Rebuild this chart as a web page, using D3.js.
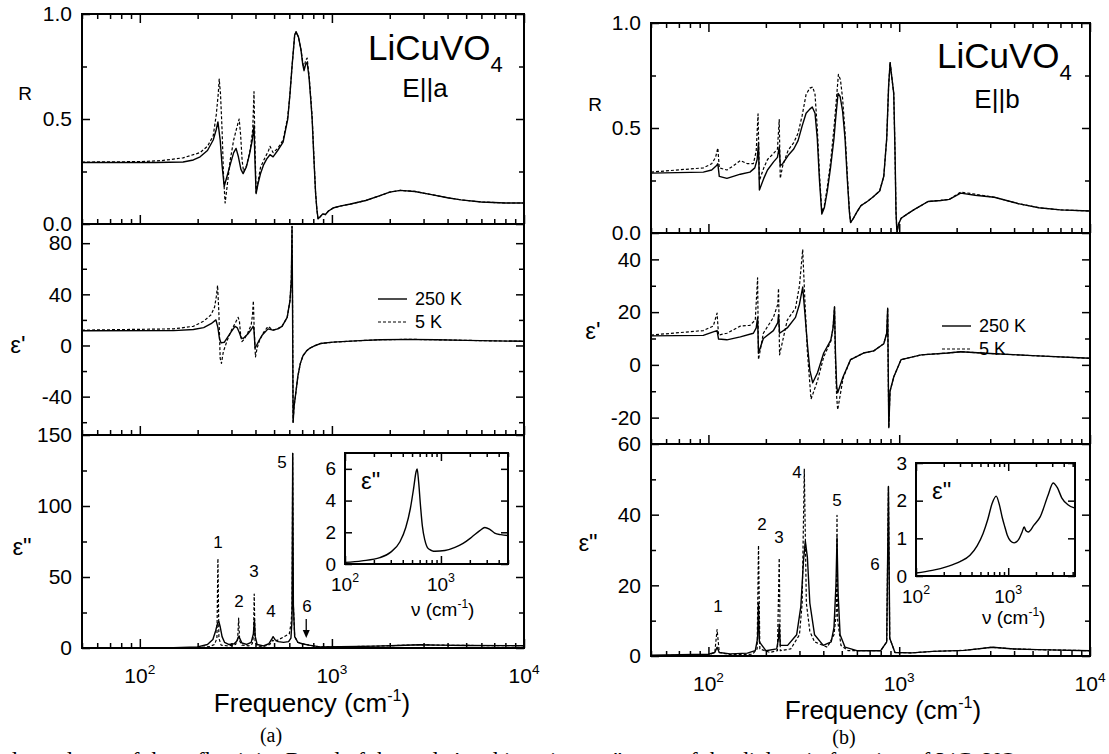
<!doctype html>
<html>
<head>
<meta charset="utf-8">
<script src="https://d3js.org/d3.v7.min.js"></script>
<title>LiCuVO4 optical spectra</title>
<style>
  body { margin: 0; background: #fff; }
  svg { display: block; background: #fff; }
</style>
</head>
<body>
<svg id="chart" width="1109" height="754"></svg>
<script>
// ---- data: [frequency cm^-1, value] ----
// panel (a), E||a
const aR250 = [[50,.293],[120,.293],[168,.295],[190,.305],[206,.32],[225,.35],[241,.40],[250,.45],[255,.486],[262,.40],[268,.28],[275,.18],[285,.23],[297,.29],[308,.34],[317,.36],[326,.32],[336,.26],[345,.24],[358,.27],[372,.33],[385,.40],[393,.47],[397,.32],[403,.145],[412,.19],[425,.24],[440,.28],[458,.31],[476,.33],[494,.32],[522,.35],[557,.39],[589,.50],[605,.62],[620,.75],[640,.90],[651,.915],[670,.89],[690,.83],[705,.76],[716,.73],[730,.76],[743,.77],[760,.70],[775,.60],[789,.50],[805,.32],[822,.15],[835,.07],[847,.025],[870,.035],[895,.048],[925,.045],[960,.062],[1014,.076],[1100,.085],[1250,.095],[1500,.112],[1780,.135],[2000,.152],[2270,.160],[2700,.155],[3300,.14],[4000,.125],[4700,.115],[6000,.105],[8000,.10],[10000,.10]];
const aR5 = [[50,.295],[100,.297],[130,.302],[168,.315],[206,.34],[225,.37],[241,.42],[250,.52],[256,.62],[259,.69],[263,.62],[268,.45],[273,.22],[278,.10],[284,.17],[295,.30],[308,.40],[320,.46],[329,.50],[335,.42],[341,.30],[347,.25],[360,.28],[375,.35],[387,.45],[393,.63],[397,.40],[403,.15],[412,.20],[425,.27],[445,.31],[468,.35],[476,.37],[494,.34],[522,.36],[557,.40],[589,.51],[605,.62],[620,.75],[640,.90],[651,.915],[670,.89],[690,.83],[705,.77],[716,.74],[730,.78],[743,.79],[760,.71],[775,.61],[789,.51],[805,.33],[822,.15],[835,.07],[847,.025],[870,.035],[895,.048],[925,.045],[960,.062],[1014,.076],[1100,.085],[1250,.095],[1500,.112],[1780,.135],[2000,.152],[2270,.160],[2700,.155],[3300,.14],[4000,.125],[4700,.115],[6000,.105],[8000,.10],[10000,.10]];
const aEps1_250 = [[50,11.5],[150,11.6],[190,12.5],[215,14],[235,17],[249,20],[255,14],[260,5],[265,2],[275,2.5],[285,6],[300,11],[313,15],[321,14],[330,10],[337,6],[345,5.5],[365,9],[380,12.5],[389,15],[393,12],[398,-2],[405,0],[418,4],[433,8],[465,13],[494,12],[522,13],[550,15],[585,22],[605,35],[615,52],[620,93],[624,30],[628,-60],[635,-48],[650,-36],[665,-24],[685,-14],[707,-8],[740,-4],[770,-2],[820,0],[870,1.5],[1014,2.6],[1400,3.8],[1780,4.5],[2500,4.8],[3500,4.5],[5000,4],[7000,3.6],[10000,3.3]];
const aEps1_5 = [[50,12],[150,13],[190,15],[215,19],[235,24],[245,30],[250,38],[254,47],[258,25],[262,-10],[266,-14],[272,-5],[285,4],[300,12],[315,18],[325,22],[330,19],[335,8],[340,3],[350,5],[365,10],[380,16],[386,24],[390,35],[394,12],[400,-9],[408,-2],[420,4],[440,10],[465,15],[494,12],[522,13],[550,15],[585,22],[605,35],[615,52],[620,93],[624,30],[628,-60],[635,-48],[650,-36],[665,-24],[685,-14],[707,-8],[740,-4],[770,-2],[820,0],[870,1.5],[1014,2.6],[1400,3.8],[1780,4.5],[2500,4.8],[3500,4.5],[5000,4],[7000,3.6],[10000,3.3]];
const aEps2_250 = [[50,.05],[150,.2],[200,.8],[225,2.5],[240,6],[248,12],[254,17.5],[258,18.5],[262,15],[268,8],[276,4],[290,2.5],[310,3],[320,5],[326,8],[332,6.5],[340,3.5],[360,2.5],[380,4],[390,10],[395,20],[399,8],[408,2.5],[440,1.5],[470,3],[485,6],[494,8],[505,6],[525,4.5],[560,4],[595,4.5],[612,7],[620,20],[625,137],[630,30],[640,8],[665,4],[700,3],[760,2],[866,.8],[1100,.85],[1690,1.3],[2200,1.8],[2870,2.3],[3600,2],[5000,1.8],[10000,1.6]];
const aEps2_5 = [[50,.03],[150,.1],[200,.3],[230,.9],[245,2.5],[252,7],[255,63],[258,7],[265,2],[290,1.5],[315,2.5],[323,6],[327,21],[331,5],[340,2],[370,1.5],[385,3],[391,9],[394,38],[398,5],[408,1.5],[440,1],[475,2.5],[492,5.5],[505,4.5],[530,6],[565,8],[600,10],[614,18],[620,30],[625,137],[630,30],[640,8],[665,4],[700,3],[760,2],[866,.8],[1100,.85],[1690,1.3],[2200,1.8],[2870,2.3],[3600,2],[5000,1.8],[10000,1.6]];
const aInset = [[100,.1],[150,.2],[231,.4],[300,.75],[374,1.4],[430,2.3],[480,3.5],[520,4.8],[550,5.8],[565,6.0],[585,5.2],[610,3.8],[640,2.4],[680,1.5],[730,1.0],[800,.85],[866,.8],[1100,.85],[1400,1.05],[1700,1.3],[2100,1.7],[2540,2.1],[2870,2.3],[3200,2.2],[3630,1.95],[4200,1.85],[5000,1.8]];

// panel (b), E||b
const bR250 = [[50,.285],[94,.29],[104,.30],[110,.32],[112,.33],[114,.27],[125,.26],[135,.27],[147,.28],[165,.29],[175,.31],[180,.35],[183,.43],[185,.205],[195,.26],[204,.30],[220,.34],[230,.36],[235,.41],[238,.32],[245,.33],[262,.37],[280,.40],[295,.44],[310,.51],[325,.57],[340,.59],[350,.60],[362,.57],[372,.45],[382,.25],[393,.09],[405,.12],[420,.20],[437,.315],[455,.45],[465,.55],[478,.665],[490,.65],[505,.58],[520,.45],[535,.25],[548,.10],[556,.05],[575,.07],[600,.10],[630,.13],[680,.15],[726,.17],[790,.20],[830,.27],[860,.45],[880,.70],[896,.81],[915,.74],[936,.665],[950,.40],[962,.10],[973,0],[990,.04],[1023,.07],[1100,.09],[1190,.11],[1300,.13],[1415,.15],[1650,.155],[1830,.16],[2100,.19],[2500,.18],[3150,.17],[4200,.14],[5400,.12],[7000,.11],[10000,.105]];
const bR5 = [[50,.29],[94,.31],[104,.33],[109,.36],[112,.405],[114,.31],[125,.30],[135,.32],[147,.345],[160,.33],[172,.33],[178,.39],[182,.567],[185,.25],[195,.31],[204,.35],[220,.38],[230,.40],[235,.54],[238,.26],[245,.32],[262,.395],[280,.43],[295,.475],[310,.56],[325,.66],[340,.69],[352,.695],[362,.66],[372,.50],[382,.28],[393,.10],[405,.13],[420,.22],[437,.34],[455,.50],[465,.60],[480,.755],[492,.73],[505,.64],[520,.48],[535,.27],[548,.11],[556,.05],[575,.07],[600,.10],[630,.13],[680,.15],[726,.17],[790,.20],[830,.27],[860,.45],[880,.70],[896,.815],[915,.74],[936,.665],[950,.40],[962,.10],[973,0],[990,.04],[1023,.07],[1100,.09],[1190,.11],[1300,.13],[1415,.15],[1650,.155],[1830,.16],[2100,.195],[2500,.185],[3150,.17],[4200,.14],[5400,.12],[7000,.11],[10000,.105]];
const bEps1_250 = [[50,11],[94,11.2],[106,12.5],[111,13],[113,9.8],[125,9.5],[147,10.6],[172,12],[178,14],[181,18],[183,4.5],[194,10],[219,13],[231,16],[233,19],[236,12],[259,14],[286,18],[300,23],[312,29.5],[320,20],[330,8],[340,-2],[352,-6.8],[373,-3],[402,4.5],[438,9.4],[450,14],[458,22],[463,5],[470,-8],[476,-10.6],[508,-4.5],[556,2],[650,4.5],[735,5.3],[830,8],[860,12],[870,21.5],[878,-10],[882,-23.8],[895,-10],[937,-4.5],[1023,2],[1305,3.8],[1800,4.5],[2100,5],[3000,4.3],[5000,3.5],[10000,2.5]];
const bEps1_5 = [[50,11.3],[94,13],[106,14.7],[111,19.6],[113,11.3],[125,12],[147,14.7],[165,15],[176,17],[181,33],[183,2],[194,12],[219,18],[231,23],[233,29],[236,3.8],[259,17],[286,21.5],[300,30],[312,43.8],[320,25],[330,5],[345,-13],[373,-6],[402,3],[438,9],[450,14],[458,22],[463,2],[470,-12],[476,-17],[508,-5],[556,2],[650,4.5],[735,5.3],[830,8],[860,12],[870,21.5],[878,-10],[882,-23.8],[895,-10],[937,-4.5],[1023,2],[1305,3.8],[1800,4.5],[2100,5],[3000,4.3],[5000,3.5],[10000,2.5]];
const bEps2_250 = [[50,.2],[100,.5],[108,1],[111,2.5],[114,1],[130,.6],[160,.8],[176,1.5],[181,5],[183,15],[185,4],[200,1.5],[228,2],[233,5],[235,9],[238,3],[260,3],[290,6],[305,14],[315,27],[322,32.5],[330,28],[340,15],[360,6],[400,3],[440,4],[455,8],[466,20],[472,33.5],[478,18],[490,6],[520,2.5],[600,1.5],[800,1.5],[860,4],[878,48],[892,5],[950,1],[1160,.88],[1500,1.3],[2200,1.6],[3070,2.47],[4000,2.0],[5300,1.8],[10000,1.5]];
const bEps2_5 = [[50,.1],[100,.3],[108,1],[111,7.5],[114,1],[130,.4],[170,.5],[180,2],[183,31.3],[186,2],[210,1],[230,1.5],[235,27.7],[238,1.5],[270,2],[300,6],[310,15],[318,53],[326,15],[340,7],[360,4],[420,2.5],[455,6],[468,12],[472,39.8],[476,10],[495,3],[540,1.5],[800,1.5],[860,4],[878,48],[892,5],[950,1],[1160,.88],[1500,1.3],[2200,1.6],[3070,2.47],[4000,2.0],[5300,1.8],[10000,1.5]];
const bInset = [[100,.08],[150,.15],[217,.25],[300,.38],[385,.55],[460,.8],[534,1.13],[600,1.5],[670,1.93],[740,2.12],[800,1.9],[860,1.56],[920,1.3],[975,1.09],[1060,.93],[1160,.88],[1300,.97],[1415,1.17],[1490,1.3],[1560,1.2],[1650,1.17],[1900,1.35],[2220,1.57],[2710,2.15],[3070,2.47],[3400,2.35],[3820,2.07],[4400,1.9],[5300,1.8]];

// tick values
const rMajor = [0, 0.5, 1.0], rMinor = [0.25, 0.75];
const aEps1Major = [-40, 0, 40, 80], aEps1Minor = [-60, -20, 20, 60];
const aEps2Major = [0, 50, 100, 150], aEps2Minor = [25, 75, 125];
const bEps1Major = [-20, 0, 20, 40], bEps1Minor = [-10, 10, 30];
const bEps2Major = [0, 20, 40, 60], bEps2Minor = [10, 30, 50];
const aInsetTicks = [0, 2, 4, 6], bInsetTicks = [0, 1, 2, 3];
const legendNames = ["250 K", "5 K"];
const aPeakNames = ["1", "2", "3", "4", "5", "6"];
const bPeakNames = ["1", "2", "3", "4", "5", "6"];

const FONT = "'Liberation Sans', Arial, Helvetica, sans-serif";
const SERIF = "'Liberation Serif', 'DejaVu Serif', 'Times New Roman', serif";

const svg = d3.select("#chart");
const isDecade = v => Math.abs(Math.log10(v) - Math.round(Math.log10(v))) < 1e-9;
let clipId = 0;

function drawCurve(g, data, x, y, dashed, curve) {
  g.append("path")
    .datum(data)
    .attr("fill", "none")
    .attr("stroke", "#000")
    .attr("stroke-width", dashed ? 1.2 : 1.4)
    .attr("stroke-dasharray", dashed ? "3,2" : null)
    .attr("stroke-linejoin", "round")
    .attr("d", d3.line().curve(curve || d3.curveLinear).x(d => x(d[0])).y(d => y(d[1])));
}

function tickAxis(g, axis, values, size, tx, ty) {
  const a = g.append("g")
    .attr("transform", `translate(${tx},${ty})`)
    .call(axis.tickValues(values).tickSize(size).tickFormat(""));
  a.select(".domain").remove();
  a.selectAll("line").attr("stroke-width", 1.5);
  return a;
}

function xTickRow(g, x, yPos, inward) {
  const all = x.ticks();
  const major = all.filter(isDecade), minor = all.filter(v => !isDecade(v));
  const ax = () => inward === "up" ? d3.axisTop(x) : d3.axisBottom(x);
  tickAxis(g, ax(), minor, 5, 0, yPos);
  tickAxis(g, ax(), major, 9, 0, yPos);
}

function yTicks(g, y, major, minor, left, right, fs, pad) {
  tickAxis(g, d3.axisRight(y), major, 8, left, 0);
  tickAxis(g, d3.axisRight(y), minor, 5, left, 0);
  tickAxis(g, d3.axisLeft(y), major, 8, right, 0);
  tickAxis(g, d3.axisLeft(y), minor, 5, right, 0);
  const lab = g.append("g")
    .attr("transform", `translate(${left},0)`)
    .call(d3.axisLeft(y).tickValues(major).tickSize(0).tickPadding(pad).tickFormat(d => major === rMajor ? d.toFixed(1) : String(d)));
  lab.select(".domain").remove();
  lab.attr("font-size", fs).attr("font-family", FONT);
}

function decadeLabel(g, xPos, yPos, exp, fs) {
  const t = g.append("text").attr("x", xPos).attr("y", yPos)
    .attr("text-anchor", "middle").attr("font-family", FONT).attr("font-size", fs);
  t.append("tspan").text("10");
  t.append("tspan").attr("dy", -fs * 0.45).attr("font-size", fs * 0.65).text(exp);
}

function drawPanel(p) {
  const g = svg.append("g");
  const x = d3.scaleLog().domain([50, 10000]).range([p.left, p.right]);

  p.rows.forEach((row, i) => {
    const top = p.ys[i], bottom = p.ys[i + 1];
    const y = d3.scaleLinear().domain(row.domain).range([bottom, top]);
    const id = "clip" + (clipId++);
    svg.append("clipPath").attr("id", id).append("rect")
      .attr("x", p.left).attr("y", top).attr("width", p.right - p.left).attr("height", bottom - top);
    const cg = g.append("g").attr("clip-path", `url(#${id})`);
    drawCurve(cg, row.solid, x, y, false);
    drawCurve(cg, row.dashed, x, y, true);

    yTicks(g, y, row.major, row.minor, p.left, p.right, 21, 10);
    xTickRow(g, x, bottom, "up");
    if (i === 0) xTickRow(g, x, top, "down");

    g.append("text").attr("x", row.labelPos[0]).attr("y", row.labelPos[1])
      .attr("text-anchor", "middle").attr("dominant-baseline", "central")
      .attr("font-family", FONT).attr("font-size", row.labelSize).text(row.label);
  });

  // frame
  g.append("rect").attr("x", p.left).attr("y", p.ys[0])
    .attr("width", p.right - p.left).attr("height", p.ys[3] - p.ys[0])
    .attr("fill", "none").attr("stroke", "#000").attr("stroke-width", 2);
  [p.ys[1], p.ys[2]].forEach(v => g.append("line")
    .attr("x1", p.left).attr("x2", p.right).attr("y1", v).attr("y2", v)
    .attr("stroke", "#000").attr("stroke-width", 2));

  // x tick labels
  [[100, "2"], [1000, "3"], [10000, "4"]].forEach(([v, e]) => decadeLabel(g, x(v), p.xLabelY, e, 21));
  const fl = g.append("text").attr("x", p.freqX).attr("y", p.freqY).attr("text-anchor", "middle")
    .attr("font-family", FONT).attr("font-size", 26);
  fl.append("tspan").text("Frequency (cm");
  fl.append("tspan").attr("dy", -11).attr("font-size", 16).text("-1");
  fl.append("tspan").attr("dy", 11).text(")");

  // compound name
  const c = g.append("text").attr("x", p.nameX).attr("y", p.nameY)
    .attr("font-family", FONT).attr("font-size", 35);
  c.append("tspan").text("LiCuVO");
  c.append("tspan").attr("dy", 12).attr("font-size", 22).text("4");
  g.append("text").attr("x", p.polX).attr("y", p.polY).attr("text-anchor", "middle")
    .attr("font-family", FONT).attr("font-size", 26).text(p.pol);

  // legend
  legendNames.forEach((name, k) => {
    const ly = p.legendY + k * 23;
    g.append("line").attr("x1", p.legendX).attr("x2", p.legendX + 29).attr("y1", ly).attr("y2", ly)
      .attr("stroke", "#000").attr("stroke-width", k ? 1.2 : 1.4).attr("stroke-dasharray", k ? "3,2" : null);
    g.append("text").attr("x", p.legendX + 37).attr("y", ly).attr("dominant-baseline", "central")
      .attr("font-family", FONT).attr("font-size", 18).text(name);
  });

  // peak labels
  p.peaks.forEach((pk, k) => g.append("text").attr("x", pk[0]).attr("y", pk[1])
    .attr("text-anchor", "middle").attr("font-family", FONT).attr("font-size", 17).text(p.peakNames[k]));

  // caption
  g.append("text").attr("x", p.capX).attr("y", p.capY).attr("text-anchor", "middle")
    .attr("font-family", SERIF).attr("font-size", 20).text(p.cap);

  drawInset(g, p.inset);
}

function drawInset(g, s) {
  const x = d3.scaleLog().domain(s.xdom).range([s.left, s.right]);
  const y = d3.scaleLinear().domain(s.ydom).range([s.bottom, s.top]);
  g.append("rect").attr("x", s.left).attr("y", s.top).attr("width", s.right - s.left)
    .attr("height", s.bottom - s.top).attr("fill", "#fff");
  drawCurve(g, s.data, x, y, false, d3.curveMonotoneX);
  const all = x.ticks();
  const major = all.filter(isDecade), minor = all.filter(v => !isDecade(v));
  tickAxis(g, d3.axisTop(x), minor, 4, 0, s.bottom);
  tickAxis(g, d3.axisTop(x), major, 8, 0, s.bottom);
  tickAxis(g, d3.axisBottom(x), minor, 4, 0, s.top);
  tickAxis(g, d3.axisBottom(x), major, 8, 0, s.top);
  tickAxis(g, d3.axisRight(y), s.ticks, 7, s.left, 0);
  tickAxis(g, d3.axisLeft(y), s.ticks, 7, s.right, 0);
  const lab = g.append("g").attr("transform", `translate(${s.left},0)`)
    .call(d3.axisLeft(y).tickValues(s.ticks).tickSize(0).tickPadding(9).tickFormat(String));
  lab.select(".domain").remove();
  lab.attr("font-size", 19).attr("font-family", FONT);
  g.append("rect").attr("x", s.left).attr("y", s.top).attr("width", s.right - s.left)
    .attr("height", s.bottom - s.top).attr("fill", "none").attr("stroke", "#000").attr("stroke-width", 2);
  decadeLabel(g, x(100), s.xLabelY, "2", 19);
  decadeLabel(g, x(1000), s.xLabelY, "3", 19);
  g.append("text").attr("x", s.left + 16).attr("y", s.top + 36).attr("font-family", FONT)
    .attr("font-size", 24).text('ε"');
  const nu = g.append("text").attr("x", s.nuX).attr("y", s.nuY).attr("font-family", FONT).attr("font-size", 19);
  nu.append("tspan").text("ν (cm");
  nu.append("tspan").attr("dy", -8).attr("font-size", 12).text("-1");
  nu.append("tspan").attr("dy", 8).text(")");
}

const panelA = {
  left: 82, right: 524, ys: [14, 224, 435, 648],
  rows: [
    { domain: [0, 1], major: rMajor, minor: rMinor, solid: aR250, dashed: aR5, label: "R", labelPos: [25, 93], labelSize: 19 },
    { domain: [-70, 95], major: aEps1Major, minor: aEps1Minor, solid: aEps1_250, dashed: aEps1_5, label: "ε'", labelPos: [18, 344], labelSize: 24 },
    { domain: [0, 150], major: aEps2Major, minor: aEps2Minor, solid: aEps2_250, dashed: aEps2_5, label: 'ε"', labelPos: [22, 546], labelSize: 24 }
  ],
  xLabelY: 683, freqX: 312, freqY: 712,
  nameX: 368, nameY: 60, polX: 425, polY: 97, pol: "E||a",
  legendX: 378, legendY: 299,
  peaks: [[218, 548], [239, 607], [254, 577], [271, 617], [282, 468], [307, 612]],
  peakNames: aPeakNames,
  capX: 271, capY: 742, cap: "(a)",
  inset: { left: 345, right: 508, top: 453, bottom: 564, xdom: [100, 5000], ydom: [0, 7], ticks: aInsetTicks,
           data: aInset, xLabelY: 591, nuX: 411, nuY: 616 }
};

const panelB = {
  left: 651, right: 1090, ys: [23, 233, 444, 656],
  rows: [
    { domain: [0, 1], major: rMajor, minor: rMinor, solid: bR250, dashed: bR5, label: "R", labelPos: [595, 104], labelSize: 19 },
    { domain: [-30, 50], major: bEps1Major, minor: bEps1Minor, solid: bEps1_250, dashed: bEps1_5, label: "ε'", labelPos: [593, 330], labelSize: 24 },
    { domain: [0, 60], major: bEps2Major, minor: bEps2Minor, solid: bEps2_250, dashed: bEps2_5, label: 'ε"', labelPos: [588, 542], labelSize: 24 }
  ],
  xLabelY: 691, freqX: 883, freqY: 719,
  nameX: 937, nameY: 68, polX: 997, polY: 108, pol: "E||b",
  legendX: 942, legendY: 326,
  peaks: [[718, 612], [762, 530], [779, 543], [797, 478], [837, 506], [875, 570]],
  peakNames: bPeakNames,
  capX: 844, capY: 744, cap: "(b)",
  inset: { left: 916, right: 1075, top: 463, bottom: 576, xdom: [100, 5300], ydom: [0, 3], ticks: bInsetTicks,
           data: bInset, xLabelY: 603, nuX: 982, nuY: 624 }
};

drawPanel(panelA);
drawPanel(panelB);

// arrow marking mode 6 in panel (a)
const arrowX = d3.scaleLog().domain([50, 10000]).range([panelA.left, panelA.right])(735);
svg.append("line").attr("x1", arrowX).attr("x2", arrowX).attr("y1", 619).attr("y2", 631)
  .attr("stroke", "#000").attr("stroke-width", 1.3);
svg.append("path").attr("d", `M${arrowX - 3.5},630 L${arrowX + 3.5},630 L${arrowX},638 Z`).attr("fill", "#000");

// cut-off caption line at the bottom
svg.append("text").attr("x", 6).attr("y", 768).attr("font-family", SERIF).attr("font-size", 23)
  .text("dependence of the reflectivity R and of the real ε′ and imaginary ε″ parts of the dielectric function of LiCuVO");
</script>
</body>
</html>
